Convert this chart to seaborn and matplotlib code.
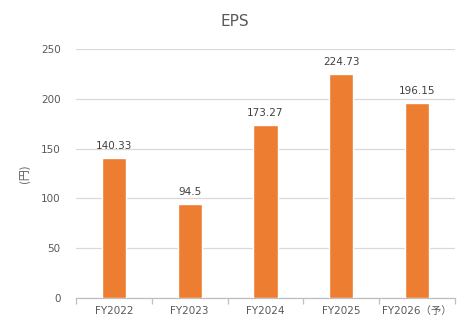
import matplotlib
matplotlib.use("Agg")
import matplotlib.pyplot as plt
import seaborn as sns
import pandas as pd
import numpy as np

categories = ["FY2022", "FY2023", "FY2024", "FY2025", "FY2026（予）"]
eps_values = [140.33, 94.5, 173.27, 224.73, 196.15]
value_labels = ["140.33", "94.5", "173.27", "224.73", "196.15"]
y_ticks = [0, 50, 100, 150, 200, 250]

sns.set_theme(style="white")
plt.rcParams['font.family'] = ['DejaVu Sans', 'Noto Sans CJK JP']

df = pd.DataFrame({"cat": categories, "eps": eps_values})

fig = plt.figure(figsize=(4.7, 3.35), dpi=100)
ax = fig.add_axes([0.1617, 0.1104, 0.8063, 0.7433])

text_color = "#595959"
sns.barplot(data=df, x="cat", y="eps", color="#ED7D31", saturation=1,
            width=0.32, ax=ax, zorder=3)

ax.set_ylim(0, 250)
ax.set_yticks(y_ticks)
ax.set_xlim(-0.5, len(categories) - 0.5)
ax.yaxis.grid(True, color="#D9D9D9", linewidth=0.9, zorder=0)
ax.xaxis.grid(False)
for s in ["top", "right", "left"]:
    ax.spines[s].set_visible(False)
ax.spines["bottom"].set_color("#BFBFBF")
ax.spines["bottom"].set_linewidth(0.9)

ax.set_xticks(range(len(categories)))
ax.set_xticklabels(categories, color=text_color, fontsize=7.5,
                   family=['DejaVu Sans', 'Noto Sans CJK JP'])
ax.tick_params(axis="x", length=0, pad=6)
ax.tick_params(axis="y", length=0, labelcolor=text_color, labelsize=7.5, pad=11)
ax.set_xticks(np.arange(-0.5, len(categories)), minor=True)
ax.tick_params(axis="x", which="minor", length=4, color="#BFBFBF", width=0.9, bottom=True)

for i, (v, lab) in enumerate(zip(eps_values, value_labels)):
    ax.annotate(lab, (i, v), xytext=(0, 5), textcoords="offset points",
                ha="center", va="bottom", fontsize=7.5, color="#404040")

ax.set_xlabel("")
ax.set_ylabel("(円)", color=text_color, fontsize=8,
              family=['Noto Sans CJK JP', 'DejaVu Sans'], labelpad=8)

fig.text(0.5, 0.935, "EPS", ha="center", va="center", fontsize=11, color=text_color)

fig.savefig("out.png", dpi=100, facecolor="white")
